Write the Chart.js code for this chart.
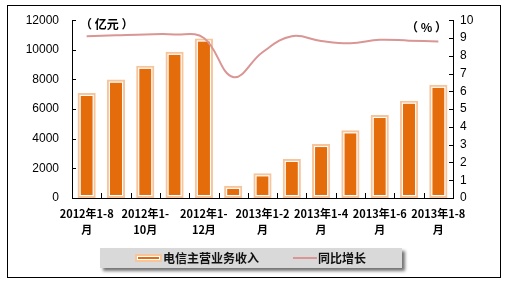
<!DOCTYPE html>
<html>
<head>
<meta charset="utf-8">
<script src="https://cdn.jsdelivr.net/npm/chart.js@4/dist/chart.umd.min.js"></script>
<style>
  body { margin: 0; background: #fff; }
  #wrap { width: 508px; height: 287px; }
</style>
</head>
<body>
<div id="wrap"><canvas id="chart" width="508" height="287"></canvas></div>
<script>
// Data
const categories = [
    '2012年1-8月', '2012年1-9月', '2012年1-10月', '2012年1-11月', '2012年1-12月',
    '2013年1月', '2013年1-2月', '2013年1-3月', '2013年1-4月', '2013年1-5月',
    '2013年1-6月', '2013年1-7月', '2013年1-8月'
];
const tickLabels = [
    ['2012年1-8', '月'], '', ['2012年1-', '10月'], '', ['2012年1-', '12月'],
    '', ['2013年1-2', '月'], '', ['2013年1-4', '月'], '', ['2013年1-6', '月'], '', ['2013年1-8', '月']
];
const revenue = [7090, 7990, 8930, 9870, 10770, 820, 1670, 2640, 3640, 4570, 5600, 6570, 7640];
const growth = [9.1, 9.15, 9.2, 9.2, 9.0, 6.8, 8.2, 9.1, 8.83, 8.7, 8.9, 8.85, 8.8];
const seriesNames = ['电信主营业务收入', '同比增长'];
const unitLeft = '（ 亿元 ）';
const unitRight = '（ % ）';

const orange = '#e46c0a';
const peach = '#f7c59c';
const rose = '#d99694';
const cjk = '"Noto Sans CJK SC", sans-serif';

// extra drawing: inner tick marks, double bar border, units, legend, frame
const decor = {
    id: 'decor',
    afterDatasetDraw(chart, args) {
        if (args.index !== 0) return;
        const ctx = chart.ctx;
        ctx.save();
        ctx.strokeStyle = '#ffffff';
        ctx.lineWidth = 1;
        args.meta.data.forEach(bar => {
            const l = bar.x - bar.width / 2, t = Math.min(bar.y, bar.base);
            const h = Math.abs(bar.base - bar.y);
            ctx.strokeRect(l + 2.5, t + 2.5, bar.width - 5, h - 5);
        });
        ctx.restore();
    },
    afterDraw(chart) {
        const ctx = chart.ctx;
        const area = chart.chartArea;
        const xs = chart.scales.x, yl = chart.scales.y, yr = chart.scales.y1;
        ctx.save();
        ctx.strokeStyle = '#000';
        ctx.lineWidth = 1;
        ctx.beginPath();
        yl.ticks.forEach(t => {
            const y = Math.round(yl.getPixelForValue(t.value)) + 0.5;
            ctx.moveTo(area.left, y); ctx.lineTo(area.left + 4, y);
        });
        yr.ticks.forEach(t => {
            const y = Math.round(yr.getPixelForValue(t.value)) + 0.5;
            ctx.moveTo(area.right - 4, y); ctx.lineTo(area.right, y);
        });
        const n = categories.length;
        for (let i = 1; i <= n; i++) {
            const x = Math.round(xs.left + i * xs.width / n) + 0.5;
            ctx.moveTo(x, area.bottom); ctx.lineTo(x, area.bottom - 5);
        }
        ctx.stroke();

        // units
        ctx.fillStyle = '#000';
        ctx.font = 'bold 12px ' + cjk;
        ctx.textBaseline = 'middle';
        ctx.textAlign = 'left';
        ctx.fillText(unitLeft, area.left + 8, 24);
        ctx.fillText(unitRight, area.right - 47, 27);

        // legend box
        ctx.save();
        ctx.shadowColor = 'rgba(0,0,0,0.55)';
        ctx.shadowOffsetX = 3;
        ctx.shadowOffsetY = 3;
        ctx.shadowBlur = 3;
        ctx.fillStyle = '#d9d9d9';
        ctx.fillRect(100, 248, 302, 20);
        ctx.restore();

        ctx.fillStyle = peach;
        ctx.fillRect(135, 254, 27, 8);
        ctx.fillStyle = '#fff';
        ctx.fillRect(137, 256, 23, 4);
        ctx.fillStyle = orange;
        ctx.fillRect(138, 257, 21, 2);

        ctx.strokeStyle = rose;
        ctx.lineWidth = 2;
        ctx.beginPath();
        ctx.moveTo(293, 258); ctx.lineTo(317, 258);
        ctx.stroke();

        ctx.fillStyle = '#111';
        ctx.fillText(seriesNames[0], 163, 258);
        ctx.fillText(seriesNames[1], 318, 258);

        // outer frame
        ctx.strokeStyle = '#000';
        ctx.lineWidth = 1;
        ctx.strokeRect(7.5, 5.5, 493, 272);
        ctx.restore();
    }
};

const ctx = document.getElementById('chart').getContext('2d');
const chart = new Chart(ctx, {
    type: 'bar',
    data: {
        labels: categories,
        datasets: [{
            type: 'bar',
            label: seriesNames[0],
            data: revenue,
            yAxisID: 'y',
            backgroundColor: orange,
            borderColor: peach,
            borderWidth: 3,
            borderSkipped: false,
            categoryPercentage: 1,
            barPercentage: 0.62,
            order: 2
        }, {
            type: 'line',
            label: seriesNames[1],
            data: growth,
            yAxisID: 'y1',
            borderColor: rose,
            borderWidth: 2,
            pointRadius: 0,
            tension: 0.4,
            fill: false,
            order: 1
        }]
    },
    options: {
        responsive: false,
        animation: false,
        events: [],
        layout: {
            padding: { left: 7, right: 0, top: 18, bottom: 39 }
        },
        plugins: {
            legend: { display: false },
            tooltip: { enabled: false }
        },
        scales: {
            x: {
                grid: { display: false, drawTicks: false },
                border: { display: true, color: '#000', width: 1 },
                ticks: {
                    autoSkip: false,
                    maxRotation: 0,
                    minRotation: 0,
                    padding: 8,
                    color: '#000',
                    font: { family: cjk, size: 11, weight: 'bold', lineHeight: 1.45 },
                    callback: (v, i) => tickLabels[i]
                },
                afterFit: s => { s.height = 50; }
            },
            y: {
                position: 'left',
                min: 0,
                max: 12000,
                ticks: {
                    stepSize: 2000,
                    padding: 13,
                    color: '#000',
                    font: { family: '"Liberation Sans", Arial, sans-serif', size: 12 },
                    callback: v => String(v)
                },
                grid: { display: false, drawTicks: false },
                border: { display: true, color: '#000', width: 1 },
                afterFit: s => { s.width = 65; }
            },
            y1: {
                position: 'right',
                min: 0,
                max: 10,
                ticks: {
                    stepSize: 1,
                    padding: 7,
                    color: '#000',
                    font: { family: '"Liberation Sans", Arial, sans-serif', size: 12 }
                },
                grid: { display: false, drawTicks: false },
                border: { display: true, color: '#000', width: 1 },
                afterFit: s => { s.width = 55; }
            }
        }
    },
    plugins: [decor]
});
</script>
</body>
</html>
